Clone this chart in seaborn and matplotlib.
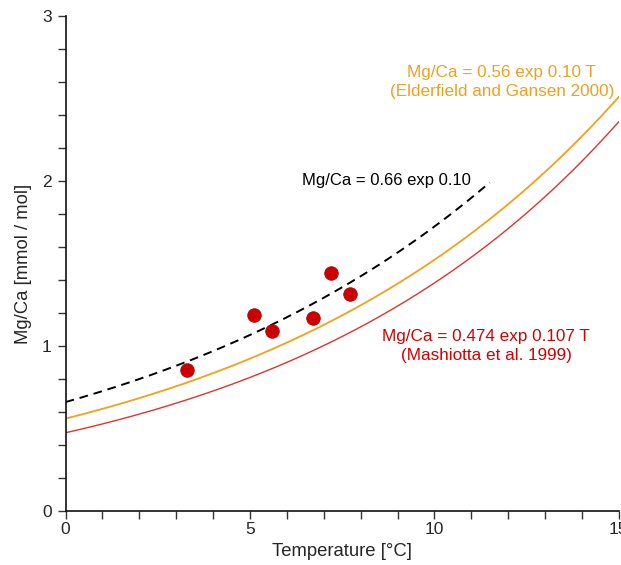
import numpy as np
import pandas as pd
import matplotlib
matplotlib.use("Agg")
import matplotlib.pyplot as plt
import seaborn as sns

sns.set_style("ticks")
plt.rcParams['font.family'] = ['Liberation Sans', 'DejaVu Sans']

# Measured points
temp_pts = [3.3, 5.1, 5.6, 6.7, 7.2, 7.7]
mgca_pts = [0.855, 1.19, 1.09, 1.17, 1.44, 1.315]

# Calibration equations Mg/Ca = A * exp(B * T)
elder_A, elder_B, elder_Tmax = 0.56, 0.10, 15.0
mash_A, mash_B, mash_Tmax = 0.474, 0.107, 15.0
fit_A, fit_B, fit_Tmax = 0.66, 0.096, 11.5

def curve(A, B, tmax):
    t = np.linspace(0, tmax, 200)
    return pd.DataFrame({"T": t, "MgCa": A * np.exp(B * t)})

fig = plt.figure(figsize=(6.21, 5.65), dpi=100)
ax = fig.add_axes([0.1055, 0.0956, 0.891, 0.8761])

sns.lineplot(data=curve(mash_A, mash_B, mash_Tmax), x="T", y="MgCa", ax=ax,
             color="#e2332b", lw=1.0)
sns.lineplot(data=curve(elder_A, elder_B, elder_Tmax), x="T", y="MgCa", ax=ax,
             color="#f5a01a", lw=1.3)
sns.lineplot(data=curve(fit_A, fit_B, fit_Tmax), x="T", y="MgCa", ax=ax,
             color="black", lw=1.4, linestyle=(0, (4.5, 3)))
sns.scatterplot(x=temp_pts, y=mgca_pts, ax=ax, s=95, color="#cc0000",
                edgecolor="#b00000", linewidth=0.6, zorder=5)

ax.set_xlim(0, 15)
ax.set_ylim(0, 3)
ax.set_xticks([0, 5, 10, 15])
ax.set_xticks(np.arange(0, 16, 1), minor=True)
ax.set_yticks([0, 1, 2, 3])
ax.set_yticks(np.arange(0, 3.01, 0.2), minor=True)
ax.tick_params(which="both", direction="out", length=6, width=1, color="#333333",
               labelsize=12.5, pad=4)
ax.tick_params(axis="x", which="major", pad=2)
for s in ["top", "right"]:
    ax.spines[s].set_visible(False)
for s in ["left", "bottom"]:
    ax.spines[s].set_linewidth(1.2)
    ax.spines[s].set_color("#111111")

ax.set_xlabel("Temperature [°C]", fontsize=13.3, labelpad=4)
ax.set_ylabel("Mg/Ca [mmol / mol]", fontsize=13.3, labelpad=7)

ax.text(8.71, 2.0, "Mg/Ca = 0.66 exp 0.10", fontsize=12, color="black",
        ha="center", va="center")
ax.text(11.83, 2.60, "Mg/Ca = 0.56 exp 0.10 T\n(Elderfield and Gansen 2000)",
        fontsize=12.3, color="#f0a020", ha="center", va="center", linespacing=1.35)
ax.text(11.4, 1.0, "Mg/Ca = 0.474 exp 0.107 T\n(Mashiotta et al. 1999)",
        fontsize=12.3, color="#d40000", ha="center", va="center", linespacing=1.35)

fig.savefig("out.png", dpi=100)
